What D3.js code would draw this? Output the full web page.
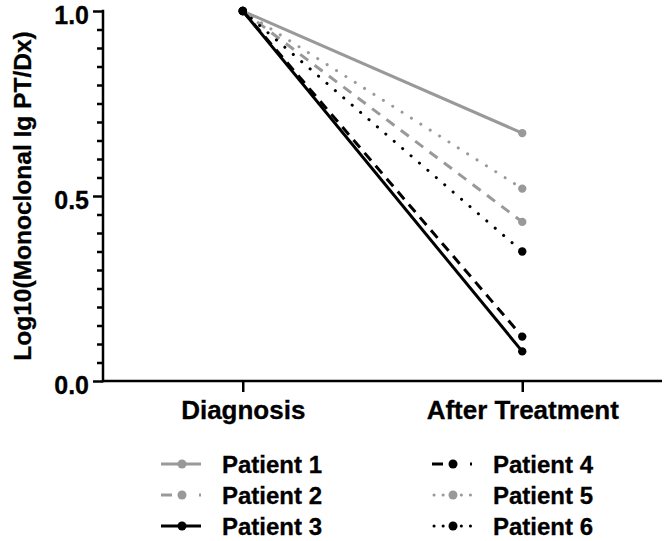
<!DOCTYPE html>
<html><head><meta charset="utf-8">
<script src="https://cdn.jsdelivr.net/npm/d3@7"></script>
<style>body{margin:0;background:#fff}svg{display:block}text{font-family:"Liberation Sans",Arial,sans-serif;font-weight:bold;stroke:#000;stroke-width:0.3px}</style>
</head><body>
<svg id="c" width="664" height="541"></svg>
<script>
const timepoints = ["Diagnosis", "After Treatment"];
const patients = ["Patient 1", "Patient 2", "Patient 3", "Patient 4", "Patient 5", "Patient 6"];
const diagnosisValues = [1.0, 1.0, 1.0, 1.0, 1.0, 1.0];
const afterValues = [0.67, 0.43, 0.08, 0.12, 0.52, 0.35];
const colors = ["#999999", "#999999", "#000000", "#000000", "#999999", "#000000"];
const dashes = [null, "10,8", null, "10,7", "0.1,11", "0.1,11"];
const yTicks = [0.0, 0.5, 1.0];
const yLabel = "Log10(Monoclonal Ig PT/Dx)";

const svg = d3.select("#c");
const x = d3.scalePoint().domain(timepoints).range([103, 662]).padding(0.5);
const y = d3.scaleLinear().domain([0, 1]).range([381, 11]);

// Lines
const series = patients.map((p, i) => ({name: p, color: colors[i], dash: dashes[i],
  values: [diagnosisValues[i], afterValues[i]]}));
const line = d3.line().x((d, j) => x(timepoints[j])).y(d => y(d));
const order = [0, 4, 1, 5, 3, 2];
order.forEach(i => {
  const s = series[i];
  svg.append("path").attr("d", line(s.values)).attr("fill", "none")
    .attr("stroke", s.color).attr("stroke-width", 3)
    .attr("stroke-linecap", s.dash && s.dash.startsWith("0.1") ? "round" : "butt")
    .attr("stroke-dasharray", s.dash);
  s.values.forEach((v, j) => {
    svg.append("circle").attr("cx", x(timepoints[j])).attr("cy", y(v)).attr("r", 4.2).attr("fill", s.color);
  });
});

// Y axis
const yAxis = d3.axisLeft(y).tickValues(yTicks).tickFormat(d3.format(".1f")).tickSize(10).tickPadding(4);
const gy = svg.append("g").attr("transform", "translate(103,0)").call(yAxis);
gy.select(".domain").remove();
gy.selectAll(".tick line").attr("stroke", "#000").attr("stroke-width", 2.5);
gy.selectAll(".tick text").attr("font-size", 25).attr("fill", "#000").attr("dy", "0.48em")
  .attr("font-family", "Liberation Sans, Arial, sans-serif").attr("font-weight", "bold");
const minor = d3.range(0, 1.0001, 0.05).filter(v => Math.abs(v * 2 - Math.round(v * 2)) > 1e-6);
const gmy = svg.append("g").attr("transform", "translate(103,0)").call(d3.axisLeft(y).tickValues(minor).tickSize(6).tickFormat(""));
gmy.select(".domain").remove();
gmy.selectAll(".tick line").attr("stroke", "#000").attr("stroke-width", 2.5);
svg.append("line").attr("x1", 103).attr("x2", 103).attr("y1", y(1) - 1.25).attr("y2", y(0) + 1.25).attr("stroke", "#000").attr("stroke-width", 2.5);

// X axis
const gx = svg.append("g").attr("transform", "translate(0,381)").call(d3.axisBottom(x).tickSize(11).tickPadding(9));
gx.select(".domain").remove();
gx.selectAll(".tick line").attr("stroke", "#000").attr("stroke-width", 2.5);
gx.selectAll(".tick text").attr("font-size", 26).attr("fill", "#000").attr("font-family", "Liberation Sans, Arial, sans-serif").attr("font-weight", "bold");
svg.append("line").attr("x1", 103).attr("x2", 662).attr("y1", 381).attr("y2", 381).attr("stroke", "#000").attr("stroke-width", 2.5);

// Y label
svg.append("text").attr("transform", `translate(31,${y(0.5)}) rotate(-90)`).attr("text-anchor", "middle")
  .attr("font-size", 24.5).text(yLabel);

// Legend
const legCols = [161, 432];
const legRows = [464, 495, 526];
series.forEach((s, i) => {
  const col = Math.floor(i / 3), row = i % 3;
  const lx = legCols[col], ly = legRows[row];
  const g = svg.append("g").attr("transform", `translate(${lx},${ly})`);
  if (s.dash) {
    const dotted = s.dash.startsWith("0.1");
    g.append("line").attr("x1", dotted ? 2 : 0).attr("x2", 40).attr("y1", 0).attr("y2", 0)
      .attr("stroke", s.color).attr("stroke-width", 3).attr("stroke-dasharray", dotted ? "0.1,9" : "11,27")
      .attr("stroke-linecap", dotted ? "round" : "butt");
  } else {
    g.append("line").attr("x1", 0).attr("x2", 40).attr("y1", 0).attr("y2", 0).attr("stroke", s.color).attr("stroke-width", 3);
  }
  g.append("circle").attr("cx", 21).attr("cy", 0).attr("r", 4.5).attr("fill", s.color);
  g.append("text").attr("x", 61).attr("y", 0).attr("dy", "0.36em").attr("font-size", 24).attr("fill", "#000").text(s.name);
});
</script>
</body></html>
